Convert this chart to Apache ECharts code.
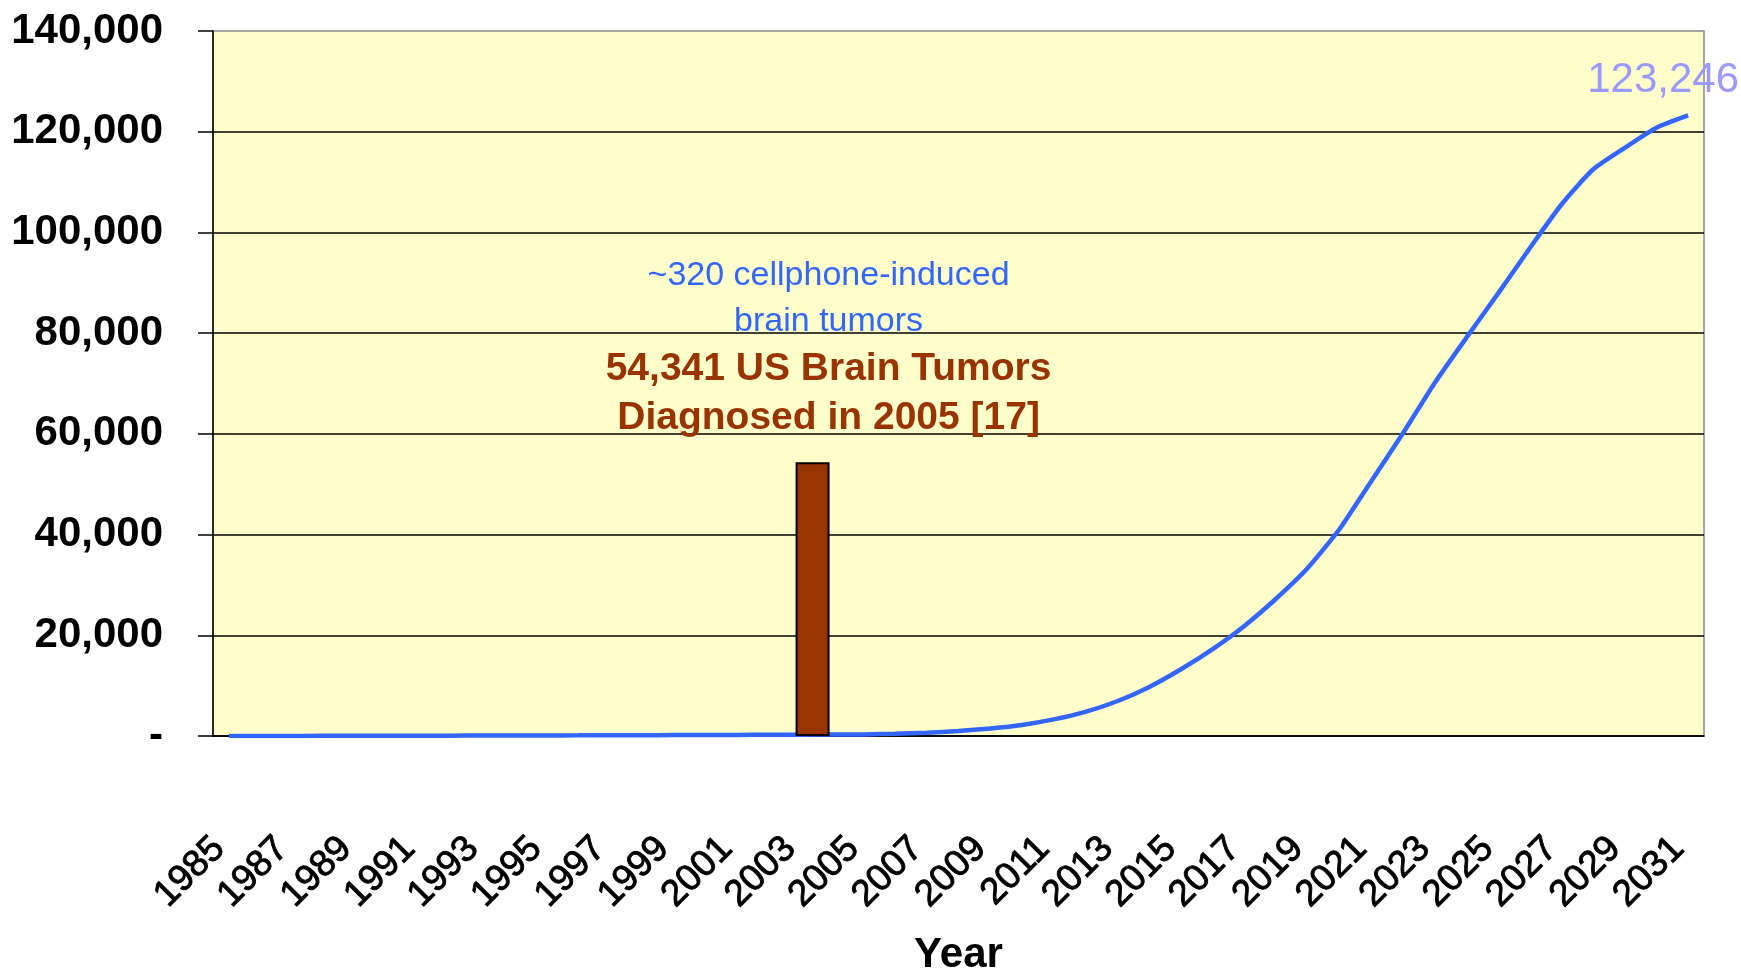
<!DOCTYPE html>
<html>
<head>
<meta charset="utf-8">
<script src="https://cdn.jsdelivr.net/npm/echarts@6/dist/echarts.min.js"></script>
<style>
  html, body { margin: 0; padding: 0; background: #fff; }
  #chart { width: 1741px; height: 968px; }
</style>
</head>
<body>
<div id="chart"></div>
<script>
// years on the category axis
const years = []
for (let y = 1985; y <= 2031; y++) years.push(String(y))

// projected cellphone-induced brain tumors per year
const cases = [
  10, 15, 20, 25, 35, 45, 55, 70, 85, 100,
  115, 130, 150, 165, 180, 200, 220, 240, 260, 290,
  320, 450, 650, 1000, 1500, 2200, 3300, 4800, 6900, 9700,
  13200, 17200, 21800, 27200, 33300, 41000, 50500, 60000, 70000, 79000,
  87800, 96800, 105500, 112500, 116800, 120800, 123246
]

// the single brown column: where it sits on the year scale and its height
const barYear = [2003.4]
const barValue = [54341]

const blueNote = ['~320 cellphone-induced', 'brain tumors']
const brownNote = ['54,341 US Brain Tumors', 'Diagnosed in 2005 [17]']

const FONT = '"Liberation Sans", Arial, sans-serif'
const fmt = v => Number(v).toLocaleString('en-US')

const chart = echarts.init(document.getElementById('chart'))

chart.setOption({
  animation: false,
  textStyle: { fontFamily: FONT },
  grid: {
    left: 213, right: 37, top: 31, bottom: 232,
    outerBoundsMode: 'none',
    show: true, backgroundColor: '#FFFFCC', borderColor: '#8a8a8a', borderWidth: 1.5
  },
  xAxis: [{
    type: 'category',
    data: years,
    boundaryGap: true,
    axisLine: { lineStyle: { color: '#000', width: 1.5 } },
    axisTick: { interval: 0, length: 15, lineStyle: { color: '#000', width: 1.5 } },
    axisLabel: {
      interval: 1, rotate: 45, margin: 97, padding: [0, 14, 0, 0],
      color: '#000', fontSize: 37, fontFamily: FONT,
      textBorderColor: '#000', textBorderWidth: 0.9
    },
    name: 'Year', nameLocation: 'middle', nameGap: 198,
    nameTextStyle: { color: '#000', fontSize: 42, fontWeight: 'bold', fontFamily: FONT },
    splitLine: { show: false }
  }, {
    type: 'value', min: 1984.5, max: 2031.5, show: false
  }],
  yAxis: {
    type: 'value', min: 0, max: 140000, interval: 20000,
    axisLine: { show: true, lineStyle: { color: '#000', width: 1.5 } },
    axisTick: { show: true, length: 15, lineStyle: { color: '#000', width: 1.5 } },
    axisLabel: {
      margin: 50, color: '#000', fontSize: 42, fontWeight: 'bold', fontFamily: FONT,
      formatter: v => v === 0 ? '-' : fmt(v)
    },
    splitLine: { showMaxLine: false, lineStyle: { color: '#000', width: 1.5 } }
  },
  series: [{
    type: 'line',
    data: cases,
    showSymbol: false,
    smooth: 0.2,
    lineStyle: { color: '#3366FF', width: 4.5 },
    endLabel: {
      show: true, align: 'center', verticalAlign: 'middle', offset: [-33, -35],
      color: '#9999FF', fontSize: 42, fontFamily: FONT,
      formatter: p => fmt(p.value)
    },
    z: 2
  }, {
    type: 'bar',
    xAxisIndex: 1,
    data: barYear.map((x, i) => [x, barValue[i]]),
    barWidth: 34,
    itemStyle: { color: '#993300', borderColor: '#000', borderWidth: 2 },
    label: {
      show: true, position: 'top', distance: 20, offset: [16, 0],
      formatter: () => blueNote.map(t => '{b|' + t + '}').join('\n') + '\n' +
        brownNote.map(t => '{r|' + t + '}').join('\n'),
      rich: {
        b: { color: '#3366FF', fontSize: 34, lineHeight: 46, fontFamily: FONT, align: 'center' },
        r: { color: '#993300', fontSize: 39, fontWeight: 'bold', lineHeight: 49, fontFamily: FONT, align: 'center' }
      }
    },
    z: 3
  }]
})
</script>
</body>
</html>
